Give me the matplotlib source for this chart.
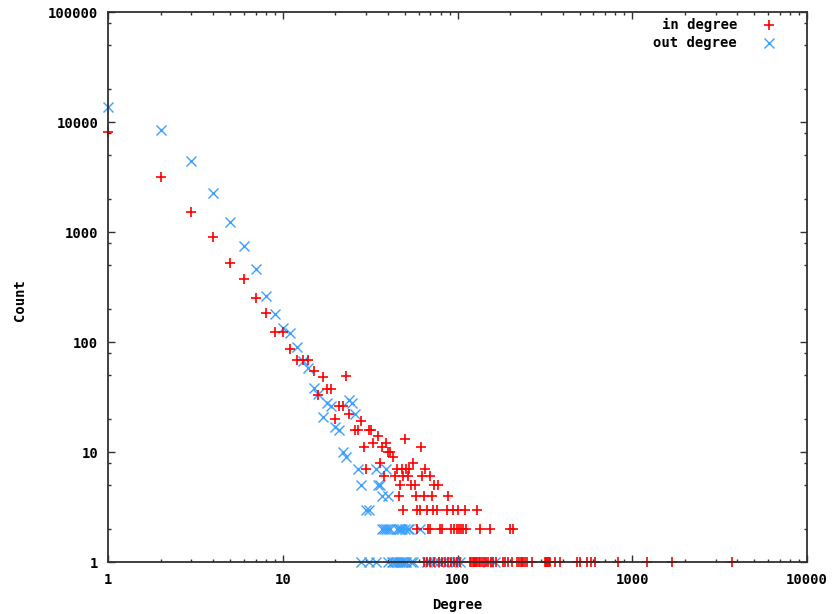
import numpy as np
import matplotlib
matplotlib.use("Agg")
import matplotlib.pyplot as plt
from matplotlib.ticker import LogLocator, FixedFormatter, NullFormatter, FixedLocator

# in degree: nodes with a distinct count, then rows of equal count
in_head_deg = [1, 2, 3, 4, 5, 6, 7, 8, 9, 10, 11, 12, 13, 14, 15, 16, 17, 18, 19,
               20, 21, 22, 23, 24, 28, 35]
in_head_cnt = [8100, 3160, 1520, 900, 525, 372, 250, 182, 124, 124, 86, 69, 69, 69,
               54, 33, 48, 37, 37, 20, 26, 26, 49, 22, 19, 14]
in_rows = [
    (16, [26, 27, 31, 32]),
    (13, [50]),
    (12, [33, 39]),
    (11, [29, 37, 62]),
    (10, [40, 41]),
    (9, [43]),
    (8, [36, 56]),
    (7, [30, 45, 48, 51, 53, 65]),
    (6, [38, 44, 49, 52, 63, 70]),
    (5, [47, 54, 57, 73, 77]),
    (4, [46, 58, 64, 71, 88]),
    (3, [49, 59, 61, 67, 72, 76, 87, 94, 100, 111, 129]),
    (2, [59, 68, 70, 79, 82, 92, 96, 99, 102, 105, 108, 112, 134, 153, 199, 207]),
    (1, [64, 67, 70, 73, 78, 82, 85, 88, 92, 95, 99, 103, 118, 120, 122, 124, 126,
         128, 130, 132, 135, 138, 141, 145, 150, 155, 160, 165, 183, 187, 194, 205,
         220, 226, 230, 234, 238, 243, 250, 267, 316, 320, 324, 329, 333, 338, 361,
         385, 482, 501, 550, 580, 611, 827, 1213, 1686, 3715]),
]

# out degree
out_head_deg = [1, 2, 3, 4, 5, 6, 7, 8, 9, 10, 11, 12, 13, 14, 15, 16, 17, 18, 19,
                20, 21, 22, 23, 24, 25, 26]
out_head_cnt = [13700, 8450, 4420, 2260, 1240, 746, 461, 262, 180, 134, 120, 90, 67,
                58, 38, 34, 21, 28, 26, 17, 16, 10, 9, 30, 28, 22]
out_rows = [
    (7, [27, 34, 39]),
    (5, [28, 35, 36]),
    (4, [37, 40]),
    (3, [30, 31]),
    (2, [37, 38, 39, 40, 41, 45, 46, 47, 48, 50, 52, 53, 61]),
    (1, [28, 31, 34, 40, 42, 43, 44, 45, 46, 47, 48, 49, 50, 51, 54, 56, 67, 70,
         73, 78, 83, 94, 98, 104, 150, 163]),
]

x_ticks = [1, 10, 100, 1000, 10000]
y_ticks = [1, 10, 100, 1000, 10000, 100000]

RED = "#ff0000"
BLUE = "#3ca0ff"
FONT = "DejaVu Sans Mono"


def flatten(head_deg, head_cnt, rows):
    deg = list(head_deg)
    cnt = list(head_cnt)
    for c, ds in rows:
        deg += ds
        cnt += [c] * len(ds)
    return np.array(deg), np.array(cnt)


def main():
    in_deg, in_cnt = flatten(in_head_deg, in_head_cnt, in_rows)
    out_deg, out_cnt = flatten(out_head_deg, out_head_cnt, out_rows)

    fig = plt.figure(figsize=(8.34, 6.14), dpi=100)
    ax = fig.add_axes([108 / 834, 1 - 562 / 614, 699 / 834, 550 / 614])

    # markers under the frame, like gnuplot draws the border last
    ax.plot(in_deg, in_cnt, ls="none", marker="+", ms=7, mew=1.2, color=RED,
            clip_on=False, zorder=2.2)
    ax.plot(out_deg, out_cnt, ls="none", marker="x", ms=6.5, mew=1.0, color=BLUE,
            clip_on=False, zorder=2.1)

    ax.set_xscale("log")
    ax.set_yscale("log")
    ax.set_xlim(1, 10000)
    ax.set_ylim(1, 100000)

    ax.xaxis.set_major_locator(FixedLocator(x_ticks))
    ax.xaxis.set_major_formatter(FixedFormatter([str(v) for v in x_ticks]))
    ax.xaxis.set_minor_locator(LogLocator(base=10, subs=np.arange(2, 10)))
    ax.xaxis.set_minor_formatter(NullFormatter())
    ax.yaxis.set_major_locator(FixedLocator(y_ticks))
    ax.yaxis.set_major_formatter(FixedFormatter([str(v) for v in y_ticks]))
    ax.yaxis.set_minor_locator(LogLocator(base=10, subs=[2, 5, 8]))
    ax.yaxis.set_minor_formatter(NullFormatter())

    ax.tick_params(which="both", direction="in", top=True, right=True,
                   colors="#303030", width=1.0)
    ax.tick_params(which="major", length=5)
    ax.tick_params(which="minor", length=2.5)
    ax.tick_params(axis="x", which="major", pad=8)
    ax.tick_params(axis="y", which="major", pad=7)
    for lab in ax.get_xticklabels() + ax.get_yticklabels():
        lab.set_fontfamily(FONT)
        lab.set_fontweight("bold")
        lab.set_fontsize(10)
        lab.set_color("black")
    for sp in ax.spines.values():
        sp.set_linewidth(1.3)
        sp.set_color("#303030")
        sp.set_zorder(3)

    fig.text(20 / 834, 1 - 300 / 614, "Count", rotation=90, ha="center",
             va="center", fontfamily=FONT, fontweight="bold", fontsize=10)
    fig.text(457 / 834, 1 - 605 / 614, "Degree", ha="center", va="center",
             fontfamily=FONT, fontweight="bold", fontsize=10)

    # gnuplot style key, text right aligned and marker to the right
    ax.text(0.900, 0.977, "in degree", transform=ax.transAxes, ha="right",
            va="center", fontfamily=FONT, fontweight="bold", fontsize=10)
    ax.text(0.900, 0.944, "out degree", transform=ax.transAxes, ha="right",
            va="center", fontfamily=FONT, fontweight="bold", fontsize=10)
    ax.plot([0.9456], [0.977], transform=ax.transAxes, marker="+", ms=7,
            mew=1.2, color=RED, ls="none")
    ax.plot([0.9456], [0.944], transform=ax.transAxes, marker="x", ms=6.5,
            mew=1.0, color=BLUE, ls="none")

    fig.savefig("out.png", dpi=100)


if __name__ == "__main__":
    main()
